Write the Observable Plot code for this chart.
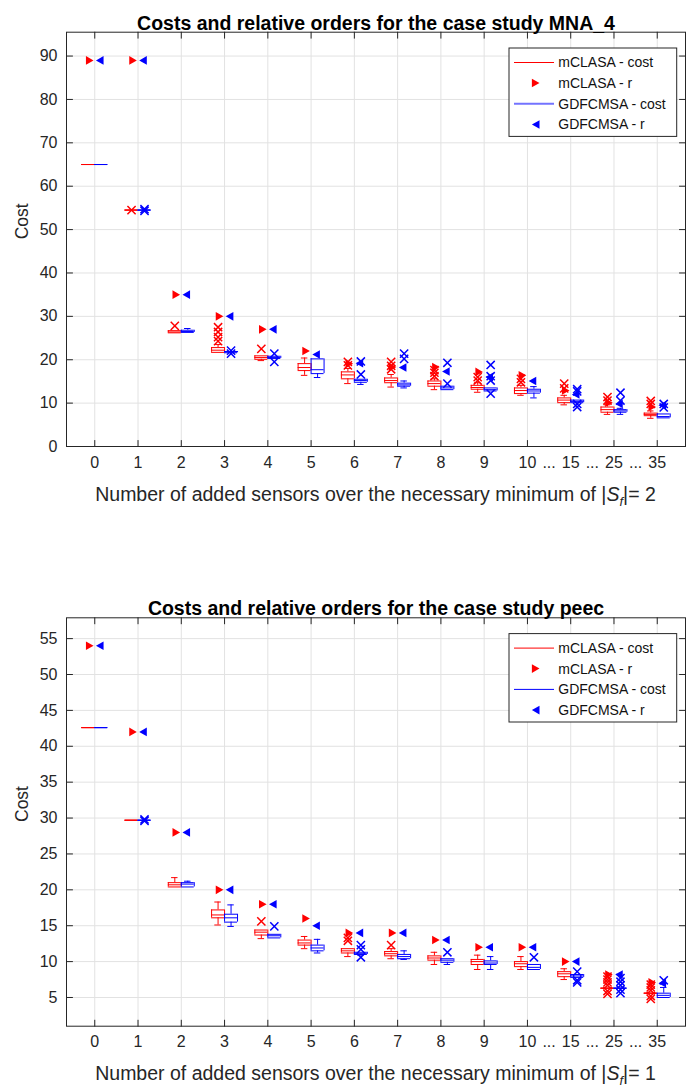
<!DOCTYPE html>
<html>
<head>
<meta charset="utf-8">
<script src="https://cdn.jsdelivr.net/npm/d3@7"></script>
<script src="https://cdn.jsdelivr.net/npm/@observablehq/plot@0.6"></script>
<style>
  body { margin: 0; background: #fff; }
  #root { width: 689px; height: 1088px; position: relative; overflow: hidden; background: #fff; }
  #root svg { display: block; }
</style>
</head>
<body>
<div id="root"></div>
<script>
// ---------- shared categories / labels ----------
const xLabels = ["0","1","2","3","4","5","6","7","8","9","10","15","25","35"];
const gapAfter = ["10","15","25"];           // "..." drawn between these and the next label
const legendLabels = ["mCLASA - cost","mCLASA - r","GDFCMSA - cost","GDFCMSA - r"];
const yLabel = "Cost";
const xLabelText = "Number of added sensors over the necessary minimum of |";

// ---------- case study MNA_4 ----------
const mnaTitle = "Costs and relative orders for the case study MNA_4";
const mnaMinimum = 2;
const mnaYTicks = [0,10,20,30,40,50,60,70,80,90];
const mnaRMclasa   = [89, 89, 35, 30, 27, 22, 19.1, 18.3, 18.3, 17.2, 16.4, 12.9, 10.1, 9.1];
const mnaRGdfcmsa  = [89, 89, 35, 30, 27, 21.2, 19.2, 18.2, 17.3, 16.0, 15.1, 12.0, 9.8, 9.5];
// [lower whisker, q1, median, q3, upper whisker]
const mnaBoxMclasa = [
  [65,65,65,65,65],
  [54.5,54.5,54.5,54.5,54.5],
  [26.2,26.2,26.4,26.7,26.7],
  [21.7,21.7,22.2,22.8,23.5],
  [19.8,20.1,20.5,20.9,20.9],
  [16.4,17.5,18.2,19.1,20.4],
  [14.5,15.6,16.5,17.2,18.0],
  [13.7,14.7,15.2,15.8,16.6],
  [13.1,13.9,14.5,15.1,15.6],
  [12.5,13.2,13.6,14.1,14.7],
  [11.8,12.2,12.9,13.5,14.1],
  [9.6,10.1,10.7,11.2,11.8],
  [7.4,7.9,8.5,9.1,9.6],
  [6.5,7.1,7.4,7.7,8.2]
];
const mnaOutMclasa = [[],[54.5],[27.8],[24.3,25.2,26.4,27.5],[22.5],[],[18.7,19.5],[17.8,18.6,19.5],[16.2,17.0,17.6],[15.2,16.0],[14.8,15.6],[13.4,14.5],[10.6,11.4],[9.8,10.5]];
const mnaBoxGdfcmsa = [
  [65,65,65,65,65],
  [54.5,54.5,54.5,54.5,54.5],
  [26.3,26.3,26.5,26.8,27.2],
  [21.6,21.6,21.8,21.9,21.9],
  [20.3,20.3,20.5,20.8,20.8],
  [15.9,16.8,17.7,20.2,20.2],
  [14.3,14.8,15.2,15.5,15.5],
  [13.5,13.9,14.2,14.6,15.1],
  [13.1,13.1,13.5,13.9,13.9],
  [12.8,12.8,13.1,13.5,13.5],
  [11.2,12.3,12.8,13.2,13.8],
  [10.1,10.1,10.4,10.7,10.7],
  [7.4,7.9,8.2,8.5,8.8],
  [6.6,6.6,6.9,7.5,7.5]
];
const mnaOutGdfcmsa = [[],[54.3,54.7],[],[21.4,22.1],[19.5,21.4],[],[16.6,19.6],[20.2,21.4],[14.5,19.3],[12.2,15.2,16.2,18.8],[],[9.1,9.8,12.7,13.2],[10.6,12.4],[9.0,9.8]];

// ---------- case study peec ----------
const peecTitle = "Costs and relative orders for the case study peec";
const peecMinimum = 1;
const peecYTicks = [5,10,15,20,25,30,35,40,45,50,55];
const peecRMclasa  = [54, 42, 28, 20, 18, 16, 14, 14, 13, 12, 12, 10, 8.2, 7.1];
const peecRGdfcmsa = [54, 42, 28, 20, 18, 15, 14, 14, 13, 12, 12, 10, 8.2, 7.0];
const peecBoxMclasa = [
  [42.6,42.6,42.6,42.6,42.6],
  [29.7,29.7,29.7,29.7,29.7],
  [20.4,20.4,20.7,21.0,21.7],
  [15.1,16.1,16.5,17.2,18.3],
  [13.2,13.7,14.1,14.4,14.4],
  [11.8,12.3,12.6,13.0,13.5],
  [10.7,11.2,11.5,11.8,11.8],
  [10.4,10.8,11.1,11.4,11.8],
  [9.6,10.2,10.5,10.8,11.3],
  [8.9,9.6,10.0,10.3,10.9],
  [8.9,9.3,9.7,10.0,10.7],
  [7.5,7.9,8.3,8.6,9.0],
  [6.3,6.3,6.3,6.3,6.3],
  [5.6,5.6,5.6,5.6,5.6]
];
const peecOutMclasa = [[],[],[],[],[15.6],[],[12.9,13.3],[12.3],[],[],[],[],[5.5,5.9,6.7,7.1,7.5,7.9],[4.8,5.2,6.0,6.4,6.8]];
const peecBoxGdfcmsa = [
  [42.6,42.6,42.6,42.6,42.6],
  [29.7,29.7,29.7,29.7,29.7],
  [20.4,20.4,20.8,21.0,21.2],
  [14.9,15.5,16.1,16.6,17.9],
  [13.3,13.3,13.6,13.8,13.8],
  [11.2,11.5,11.9,12.3,13.1],
  [10.9,11.0,11.1,11.3,11.3],
  [10.3,10.4,10.7,11.0,11.5],
  [9.6,9.9,10.2,10.4,10.4],
  [8.9,9.6,9.8,10.1,10.7],
  [8.9,8.9,9.2,9.6,9.6],
  [7.8,7.8,8.0,8.2,8.2],
  [6.3,6.3,6.3,6.3,6.3],
  [5.0,5.0,5.3,5.6,6.4]
];
const peecOutGdfcmsa = [[],[29.6,29.8],[],[],[14.9],[],[10.6,11.7,12.3],[],[11.3],[],[10.6],[7.1,7.4,8.6],[5.6,6.1,6.7,7.2,7.7],[7.4]];

// ---------- styling ----------
const RED = "#ff0000", BLUE = "#0000ff", AX = "#262626", GRID = "#e2e2e2";
const FONT = "'Liberation Sans', Arial, Helvetica, sans-serif";
const idx = xLabels.map((_, i) => i);

const triRight = {draw(c) { c.moveTo(-3.8, -4.3); c.lineTo(3.8, 0); c.lineTo(-3.8, 4.3); c.closePath(); }};
const triLeft  = {draw(c) { c.moveTo(3.8, -4.3); c.lineTo(-3.8, 0); c.lineTo(3.8, 4.3); c.closePath(); }};
const tickShape = {draw(c, l) { c.moveTo(0, 0); c.lineTo(0, -l); }};

function boxMarks(boxes, outs, color, off) {
  const rows = boxes.map((b, i) => ({i, lo: b[0], q1: b[1], med: b[2], q3: b[3], hi: b[4]}));
  const outRows = outs.flatMap((o, i) => o.map(v => ({i, v})));
  const c = d => d.i + off;
  const HW = 0.15, CAP = 0.075;
  const s = {stroke: color, strokeWidth: 1};
  return [
    Plot.ruleX(rows.filter(d => d.hi > d.q3), {x: c, y1: "q3", y2: "hi", ...s}),
    Plot.ruleX(rows.filter(d => d.lo < d.q1), {x: c, y1: "lo", y2: "q1", ...s}),
    Plot.ruleY(rows.filter(d => d.hi > d.q3), {y: "hi", x1: d => c(d) - CAP, x2: d => c(d) + CAP, ...s}),
    Plot.ruleY(rows.filter(d => d.lo < d.q1), {y: "lo", x1: d => c(d) - CAP, x2: d => c(d) + CAP, ...s}),
    Plot.ruleX(rows, {x: d => c(d) - HW, y1: "q1", y2: "q3", ...s}),
    Plot.ruleX(rows, {x: d => c(d) + HW, y1: "q1", y2: "q3", ...s}),
    Plot.ruleY(rows, {y: "q1", x1: d => c(d) - HW, x2: d => c(d) + HW, ...s}),
    Plot.ruleY(rows, {y: "q3", x1: d => c(d) - HW, x2: d => c(d) + HW, ...s}),
    Plot.ruleY(rows, {y: "med", x1: d => c(d) - HW, x2: d => c(d) + HW, ...s}),
    Plot.dot(outRows, {x: d => d.i + off, y: "v", symbol: "times", r: 3.8, stroke: color, strokeWidth: 1.5})
  ];
}

function panel(cfg) {
  const inTicks = (data, chan, frameAnchor, rotate) =>
    Plot.vector(data, {[chan]: d => d, frameAnchor, rotate, length: 6, anchor: "start", shape: tickShape, stroke: AX, strokeWidth: 1});
  const svg = Plot.plot({
    width: 689, height: 544,
    marginTop: cfg.marginTop, marginBottom: cfg.marginBottom, marginLeft: 66, marginRight: 4,
    x: {domain: [-0.653, 13.653], axis: null},
    y: {domain: cfg.yDomain, axis: null},
    style: {fontFamily: FONT, color: AX, background: "white", overflow: "visible"},
    marks: [
      Plot.gridX(idx, {stroke: GRID, strokeOpacity: 1}),
      Plot.gridY(cfg.yTicks, {stroke: GRID, strokeOpacity: 1}),
      ...boxMarks(cfg.boxM, cfg.outM, RED, -0.15),
      ...boxMarks(cfg.boxG, cfg.outG, BLUE, 0.15),
      Plot.dot(cfg.rM.map((v, i) => ({i, v})), {x: "i", y: "v", symbol: triRight, fill: RED, stroke: "none", dx: -5}),
      Plot.dot(cfg.rG.map((v, i) => ({i, v})), {x: "i", y: "v", symbol: triLeft, fill: BLUE, stroke: "none", dx: 5}),
      Plot.frame({stroke: AX, strokeWidth: 1}),
      inTicks(idx, "x", "bottom", 0),
      inTicks(idx, "x", "top", 180),
      inTicks(cfg.yTicks, "y", "left", 90),
      inTicks(cfg.yTicks, "y", "right", -90),
      Plot.text(cfg.yTicks, {y: d => d, frameAnchor: "left", dx: -9, textAnchor: "end", text: d => String(d), fontSize: 16, fill: AX}),
      Plot.text(idx, {x: d => d, frameAnchor: "bottom", dy: 21, text: d => xLabels[d], fontSize: 16, fill: AX}),
      Plot.text(gapAfter, {x: d => xLabels.indexOf(d) + 0.5, frameAnchor: "bottom", dy: 21, text: () => "...", fontSize: 16, fill: AX}),
      Plot.text([cfg.title], {frameAnchor: "top", dy: -16.5, fontSize: 19.5, fontWeight: "bold", fill: "#000"}),
      Plot.text([yLabel], {frameAnchor: "left", dx: -44, rotate: -90, fontSize: 17.5, fill: AX})
    ]
  });

  const [x0, x1] = svg.scale("x").range;
  const [yb, yt] = svg.scale("y").range;
  const g = d3.select(svg);

  // x axis label with |S_f|
  const t = g.append("text")
    .attr("x", (x0 + x1) / 2).attr("y", yb + 54.5)
    .attr("text-anchor", "middle").attr("font-size", 19.5)
    .attr("fill", AX).attr("font-family", FONT);
  t.append("tspan").text(xLabelText);
  t.append("tspan").attr("font-style", "italic").text("S");
  t.append("tspan").attr("font-style", "italic").attr("font-size", 13).attr("dy", 5).text("f");
  t.append("tspan").attr("dy", -5).text("|= " + cfg.minimum);

  // legend
  const lw = 167.7, lh = 88.4;
  const lx = x1 - 8.3 - lw, ly = yt + 16.3;
  const lg = g.append("g").attr("font-family", FONT).attr("font-size", 14).attr("text-anchor", "start");
  lg.append("rect").attr("x", lx).attr("y", ly).attr("width", lw).attr("height", lh)
    .attr("fill", "white").attr("stroke", AX).attr("stroke-width", 1);
  const rowY = [14.5, 35, 55.8, 76.5];
  const kinds = [
    {type: "line", color: RED, w: 1},
    {type: "tri", shape: "M-3.8,-4.3L3.8,0L-3.8,4.3Z", color: RED},
    {type: "line", color: cfg.blueLegend, w: cfg.blueLegendW},
    {type: "tri", shape: "M3.8,-4.3L-3.8,0L3.8,4.3Z", color: BLUE}
  ];
  legendLabels.forEach((lab, k) => {
    const y = ly + rowY[k], kd = kinds[k];
    if (kd.type === "line") {
      lg.append("line").attr("x1", lx + 5).attr("x2", lx + 45).attr("y1", y).attr("y2", y)
        .attr("stroke", kd.color).attr("stroke-width", kd.w);
    } else {
      lg.append("path").attr("d", kd.shape).attr("fill", kd.color)
        .attr("transform", `translate(${lx + 26.7},${y})`);
    }
    lg.append("text").attr("x", lx + 49.3).attr("y", y).attr("dy", "0.35em")
      .attr("text-anchor", "start").attr("fill", "#111").text(lab);
  });
  return svg;
}

const root = document.getElementById("root");
root.append(panel({
  title: mnaTitle, minimum: mnaMinimum, yDomain: [0, 95.5], yTicks: mnaYTicks,
  rM: mnaRMclasa, rG: mnaRGdfcmsa, boxM: mnaBoxMclasa, boxG: mnaBoxGdfcmsa,
  outM: mnaOutMclasa, outG: mnaOutGdfcmsa,
  marginTop: 31.7, marginBottom: 98, blueLegend: "#7373ff", blueLegendW: 2
}));
root.append(panel({
  title: peecTitle, minimum: peecMinimum, yDomain: [1, 57.9], yTicks: peecYTicks,
  rM: peecRMclasa, rG: peecRGdfcmsa, boxM: peecBoxMclasa, boxG: peecBoxGdfcmsa,
  outM: peecOutMclasa, outG: peecOutGdfcmsa,
  marginTop: 73.3, marginBottom: 62.3, blueLegend: BLUE, blueLegendW: 1
}));
</script>
</body>
</html>
